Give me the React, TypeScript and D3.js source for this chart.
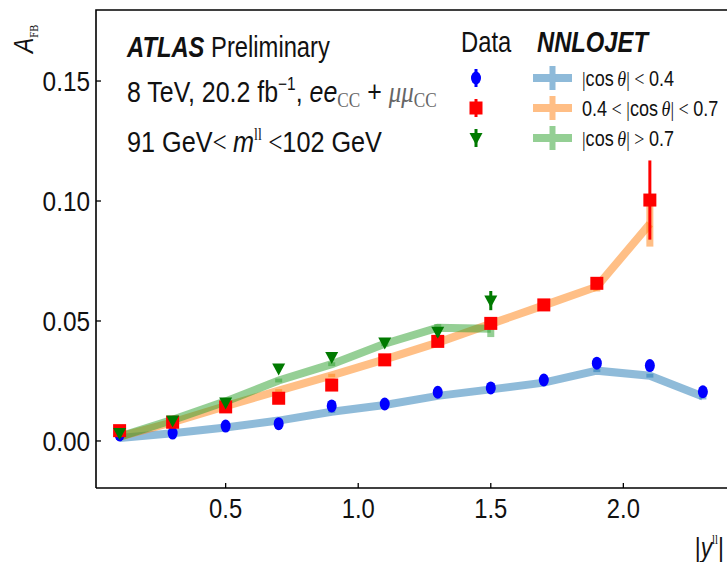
import React from "react";
import * as d3 from "d3";

// ---- data ----
const yBins = [0.1, 0.3, 0.5, 0.7, 0.9, 1.1, 1.3, 1.5, 1.7, 1.9, 2.1, 2.3];

// Data points (A_FB) per |cos theta| region
const dataLow = [0.0025, 0.0033, 0.0062, 0.0072, 0.0146, 0.0154, 0.0203, 0.0221, 0.0254, 0.0324, 0.0314, 0.0205];
const dataLowErr = [0.001, 0.001, 0.001, 0.001, 0.0012, 0.0012, 0.0012, 0.0012, 0.0012, 0.0015, 0.0015, 0.0015];
const dataMid = [0.0043, 0.0078, 0.0142, 0.0178, 0.0233, 0.0338, 0.0415, 0.049, 0.0567, 0.0657, 0.1004];
const dataMidErr = [0.001, 0.001, 0.001, 0.001, 0.0012, 0.0012, 0.0012, 0.0015, 0.0015, 0.0025, 0.0165];
const dataHigh = [0.0033, 0.0085, 0.016, 0.0302, 0.035, 0.041, 0.0455, 0.0585];
const dataHighErr = [0.002, 0.0015, 0.0015, 0.0015, 0.0015, 0.0015, 0.002, 0.004];

// NNLOJET predictions
const thLow = [0.0012, 0.0032, 0.0056, 0.0085, 0.0122, 0.015, 0.0188, 0.0215, 0.0243, 0.0293, 0.0272, 0.0185];
const thLowErr = [0.0005, 0.0005, 0.0005, 0.0005, 0.0005, 0.0005, 0.0005, 0.0005, 0.0006, 0.0006, 0.0008, 0.0012];
const thMid = [0.0018, 0.0078, 0.0145, 0.021, 0.0273, 0.034, 0.041, 0.0488, 0.0565, 0.0643, 0.0905];
const thMidErr = [0.0005, 0.0005, 0.0006, 0.0006, 0.0007, 0.0007, 0.0008, 0.001, 0.0012, 0.002, 0.0095];
const thHigh = [0.0018, 0.0088, 0.0165, 0.0252, 0.032, 0.0405, 0.0472, 0.0468];
const thHighErr = [0.0006, 0.0006, 0.0007, 0.0008, 0.0008, 0.001, 0.0015, 0.0035];

const xTicks = [0.5, 1.0, 1.5, 2.0];
const yTicks = [0.0, 0.05, 0.1, 0.15];

const legendLabels = ["low", "mid", "high"];
const legendData = ["circle", "square", "triangle"];
const colData = ["#0000ff", "#ff0000", "#007a00"];
const colTheory = ["#1f77b4", "#ff7f0e", "#2ca02c"];

const W = 727;
const H = 562;
const left = 96;
const top = 10;
const bottom = 488;

const FONT = "'Liberation Sans', Arial, sans-serif";
const SERIF = "'Liberation Serif', 'DejaVu Serif', serif";

const x = d3.scaleLinear().domain([0.011, 2.4]).range([96, 729.4]);
const y = d3.scaleLinear().domain([-0.0196, 0.1796]).range([bottom, top]);

function NText({
  x: tx,
  y: ty,
  size,
  anchor = "start",
  rotate = 0,
  sx = 0.82,
  children,
  ...rest
}: any) {
  return (
    <text
      transform={`translate(${tx},${ty}) rotate(${rotate}) scale(${sx},1)`}
      textAnchor={anchor}
      fontFamily={FONT}
      fontSize={size}
      fill="#111"
      {...rest}
    >
      {children}
    </text>
  );
}

function Marker({ kind, cx, cy, color }: { kind: string; cx: number; cy: number; color: string }) {
  if (kind === "circle") return <ellipse cx={cx} cy={cy} rx={5} ry={6.5} fill={color} />;
  if (kind === "square") return <rect x={cx - 6.5} y={cy - 6.5} width={13} height={13} fill={color} />;
  return <path d={`M${cx - 6.5},${cy - 5} L${cx + 6.5},${cy - 5} L${cx},${cy + 7} Z`} fill={color} />;
}

function CosLabel({ kind }: { kind: string }) {
  const cos = (
    <>
      <tspan fontFamily={SERIF}>|</tspan>
      <tspan>cos</tspan>
      <tspan fontFamily={SERIF} fontStyle="italic">{"\u2009θ"}</tspan>
      <tspan fontFamily={SERIF}>|</tspan>
    </>
  );
  if (kind === "low")
    return (
      <>
        {cos}
        <tspan fontFamily={SERIF}>{" < "}</tspan>
        <tspan>0.4</tspan>
      </>
    );
  if (kind === "mid")
    return (
      <>
        <tspan>0.4</tspan>
        <tspan fontFamily={SERIF}>{" < "}</tspan>
        {cos}
        <tspan fontFamily={SERIF}>{" < "}</tspan>
        <tspan>0.7</tspan>
      </>
    );
  return (
    <>
      {cos}
      <tspan fontFamily={SERIF}>{" > "}</tspan>
      <tspan>0.7</tspan>
    </>
  );
}

export default function App() {
  const line = d3
    .line<[number, number]>()
    .x((d) => x(d[0]))
    .y((d) => y(d[1]));

  const theory = [
    { v: thLow, e: thLowErr },
    { v: thMid, e: thMidErr },
    { v: thHigh, e: thHighErr },
  ];
  const data = [
    { v: dataLow, e: dataLowErr },
    { v: dataMid, e: dataMidErr },
    { v: dataHigh, e: dataHighErr },
  ];

  return (
    <svg width={W} height={H} style={{ display: "block", position: "absolute", left: 0, top: 0 }} viewBox={`0 0 ${W} ${H}`}>
      <rect x={0} y={0} width={W} height={H} fill="#fff" />
      <defs>
        <clipPath id="plot">
          <rect x={left} y={top} width={W - left} height={bottom - top} />
        </clipPath>
      </defs>

      {/* theory lines */}
      <g clipPath="url(#plot)">
        {theory.map((t, i) => {
          const pts = t.v.map((v, j) => [yBins[j], v] as [number, number]);
          return (
            <g key={i} opacity={0.5}>
              <path d={line(pts) || ""} fill="none" stroke={colTheory[i]} strokeWidth={8} strokeLinejoin="miter" />
            </g>
          );
        })}
        {theory.map((t, i) => (
          <g key={"e" + i} opacity={0.5}>
            {t.v.map((v, j) => (
              <line key={j} x1={x(yBins[j])} x2={x(yBins[j])} y1={y(v - t.e[j])} y2={y(v + t.e[j])} stroke={colTheory[i]} strokeWidth={7} />
            ))}
          </g>
        ))}

        {/* data */}
        {data.map((d, i) => (
          <g key={"d" + i}>
            {d.v.map((v, j) => (
              <g key={j}>
                <line x1={x(yBins[j])} x2={x(yBins[j])} y1={y(v - d.e[j])} y2={y(v + d.e[j])} stroke={colData[i]} strokeWidth={3} />
                <Marker kind={legendData[i]} cx={x(yBins[j])} cy={y(v)} color={colData[i]} />
              </g>
            ))}
          </g>
        ))}
      </g>

      {/* frame */}
      <path d={`M${left},${bottom} L${left},${top} L${W + 5},${top}`} fill="none" stroke="#000" strokeWidth={1.6} />
      <line x1={left} x2={W + 5} y1={bottom} y2={bottom} stroke="#000" strokeWidth={1.6} />

      {/* y ticks */}
      {yTicks.map((t) => (
        <g key={t}>
          <line x1={left} x2={left + 5} y1={y(t)} y2={y(t)} stroke="#000" strokeWidth={1.3} />
          <NText x={90} y={y(t) + 10} anchor="end" size={28} sx={0.87}>
            {d3.format(".2f")(t)}
          </NText>
        </g>
      ))}
      {/* x ticks */}
      {xTicks.map((t) => (
        <g key={t}>
          <line x1={x(t)} x2={x(t)} y1={bottom} y2={bottom - 5} stroke="#000" strokeWidth={1.3} />
          <NText x={x(t)} y={518} anchor="middle" size={28} sx={0.85}>
            {d3.format(".1f")(t)}
          </NText>
        </g>
      ))}

      {/* axis labels */}
      <NText x={33} y={53} rotate={-90} size={28}>
        <tspan fontStyle="italic">A</tspan>
        <tspan fontFamily={SERIF} fontSize={13} dy={5}>FB</tspan>
      </NText>
      <NText x={724} y={557} anchor="end" size={28}>
        |<tspan fontStyle="italic">y</tspan>
        <tspan fontFamily={SERIF} fontSize={13} dy={-13}>ll</tspan>
        <tspan dy={13}>|</tspan>
      </NText>

      {/* annotation */}
      <NText x={127} y={57} size={29}>
        <tspan fontWeight="bold" fontStyle="italic">ATLAS</tspan> Preliminary
      </NText>
      <NText x={127} y={102} size={29} sx={0.86}>
        8 TeV, 20.2 fb
        <tspan fontSize={18} dy={-12}>−1</tspan>
        <tspan dy={12}>, </tspan>
        <tspan fontStyle="italic">ee</tspan>
        <tspan fontFamily={SERIF} fontSize={20} dy={5} fill="#666">CC</tspan>
        <tspan dy={-5}> + </tspan>
        <tspan fontFamily={SERIF} fontStyle="italic" fill="#666">μμ</tspan>
        <tspan fontFamily={SERIF} fontSize={20} dy={5} fill="#666">CC</tspan>
      </NText>
      <NText x={127} y={152} size={29} sx={0.87}>
        91 GeV
        <tspan fontFamily={SERIF}>{"< "}</tspan>
        <tspan fontStyle="italic">m</tspan>
        <tspan fontFamily={SERIF} fontSize={16} dy={-12}>ll</tspan>
        <tspan dy={12} fontFamily={SERIF}>{" <"}</tspan>102 GeV
      </NText>

      {/* legend */}
      <NText x={461} y={52} size={29}>Data</NText>
      <NText x={537} y={52} size={29} fontWeight="bold" fontStyle="italic">NNLOJET</NText>
      {legendLabels.map((lab, i) => {
        const ly = 78 + i * 30;
        return (
          <g key={lab}>
            <line x1={476} x2={476} y1={ly - 9} y2={ly + 9} stroke={colData[i]} strokeWidth={3} />
            <Marker kind={legendData[i]} cx={476} cy={ly} color={colData[i]} />
            <g opacity={0.5}>
              <line x1={533} x2={572} y1={ly} y2={ly} stroke={colTheory[i]} strokeWidth={8} />
              <line x1={552.5} x2={552.5} y1={ly - 12} y2={ly + 12} stroke={colTheory[i]} strokeWidth={6} />
            </g>
            <NText x={582} y={ly + 8} size={22}>
              <CosLabel kind={lab} />
            </NText>
          </g>
        );
      })}
    </svg>
  );
}
